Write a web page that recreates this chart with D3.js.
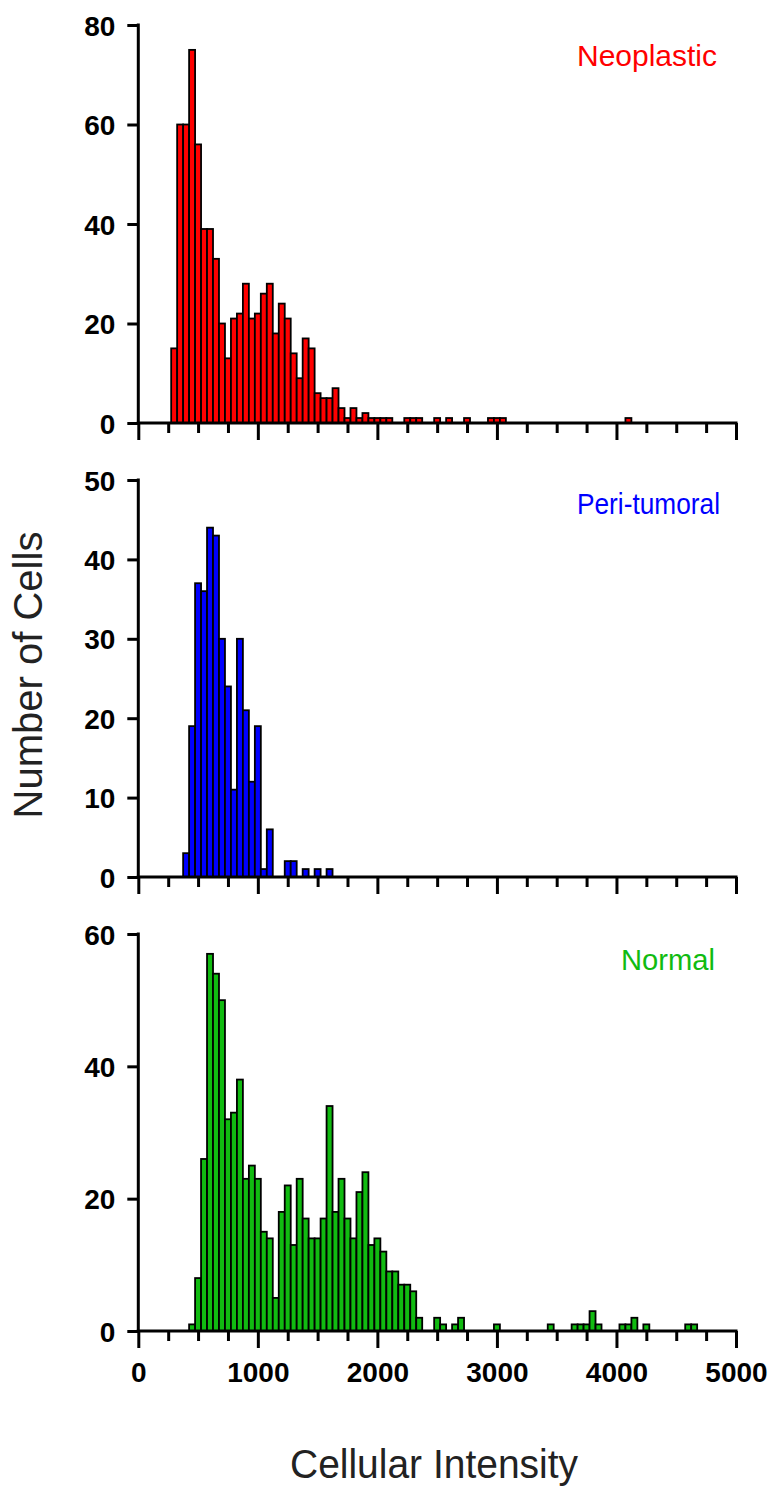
<!DOCTYPE html>
<html>
<head>
<meta charset="utf-8">
<script src="https://cdn.jsdelivr.net/npm/d3@7"></script>
<style>
  body { margin: 0; background: #fff; }
  .tick-label { font-family: "Liberation Sans", Arial, sans-serif; font-weight: bold; font-size: 28px; fill: #000; }
  .axis-title { font-family: "Liberation Sans", Arial, sans-serif; font-size: 40px; fill: #222; }
  .panel-label { font-family: "Liberation Sans", Arial, sans-serif; font-size: 29.5px; }
</style>
</head>
<body>
<div id="chart"></div>
<script>
// bin width of the histograms, bins are centred on these values
var binWidth = 50;

var neoplasticBins   = [300,350,400,450,500,550,600,650,700,750,800,850,900,950,1000,1050,1100,1150,1200,1250,1300,1350,1400,1450,1500,1550,1600,1650,1700,1750,1800,1850,1900,1950,2000,2050,2100,2250,2300,2350,2500,2600,2750,2950,3000,3050,4100];
var neoplasticCounts = [15,60,60,75,56,39,39,33,20,13,21,22,28,21,22,26,28,18,24,21,14,9,17,15,6,5,5,7,3,1,3,1,2,1,1,1,1,1,1,1,1,1,1,1,1,1,1];

var periBins   = [400,450,500,550,600,650,700,750,800,850,900,950,1000,1050,1100,1250,1300,1400,1500,1600];
var periCounts = [3,19,37,36,44,43,30,24,11,30,21,12,19,1,6,2,2,1,1,1];

var normalBins   = [450,500,550,600,650,700,750,800,850,900,950,1000,1050,1100,1150,1200,1250,1300,1350,1400,1450,1500,1550,1600,1650,1700,1750,1800,1850,1900,1950,2000,2050,2100,2150,2200,2250,2300,2350,2500,2550,2650,2700,3000,3450,3650,3700,3750,3800,3850,4050,4100,4150,4250,4600,4650];
var normalCounts = [1,8,26,57,54,50,32,33,38,23,25,23,15,14,5,18,22,13,23,17,14,14,17,34,18,23,17,14,21,24,13,14,12,9,9,7,7,6,2,2,1,1,2,1,1,1,1,1,3,1,1,1,2,1,1,1];

var xTicks = [0,1000,2000,3000,4000,5000];
var xMinorStep = 250;

var width = 773, height = 1489;

var svg = d3.select("#chart").append("svg")
    .attr("width", width)
    .attr("height", height);

var x = d3.scaleLinear().domain([0, 5000]).range([138.3, 736]);

// one entry per stacked panel
var panels = [
  { name: "Neoplastic",   bins: neoplasticBins, counts: neoplasticCounts, color: "#ff0000", yMax: 80, yStep: 20, top: 25,  bottom: 423,  labelX: 717, labelY: 66,  labelW: 140 },
  { name: "Peri-tumoral", bins: periBins,       counts: periCounts,       color: "#0000ff", yMax: 50, yStep: 10, top: 480, bottom: 877,  labelX: 720, labelY: 514, labelW: 143 },
  { name: "Normal",       bins: normalBins,     counts: normalCounts,     color: "#11bb11", yMax: 60, yStep: 20, top: 934, bottom: 1331, labelX: 715, labelY: 970, labelW: 94 }
];

panels.forEach(function(p, i) {
	var y = d3.scaleLinear().domain([0, p.yMax]).range([p.bottom, p.top]);
	var g = svg.append("g");

	// bars
	g.selectAll("rect")
		.data(p.bins.map(function(b, k) { return { c: b, n: p.counts[k] }; }))
		.enter().append("rect")
		.attr("x", function(d) { return x(d.c - binWidth / 2); })
		.attr("width", function(d) { return x(d.c + binWidth / 2) - x(d.c - binWidth / 2); })
		.attr("y", function(d) { return y(d.n); })
		.attr("height", function(d) { return y(0) - y(d.n); })
		.attr("fill", p.color)
		.attr("stroke", "#000")
		.attr("stroke-width", 1.8);

	// y axis
	var yAxis = d3.axisLeft(y)
		.tickValues(d3.range(0, p.yMax + 1, p.yStep))
		.tickSize(11)
		.tickPadding(12)
		.tickFormat(d3.format("d"));
	var ya = g.append("g").attr("transform", "translate(" + x(0) + ",0)").call(yAxis);
	ya.select(".domain").remove();
	ya.selectAll(".tick line").attr("stroke", "#000").attr("stroke-width", 3);
	ya.selectAll(".tick text").attr("class", "tick-label").attr("dy", "0.36em");
	g.append("line")
		.attr("x1", x(0)).attr("x2", x(0))
		.attr("y1", y(p.yMax) - 1.5).attr("y2", y(0))
		.attr("stroke", "#000").attr("stroke-width", 3);

	// x axis: minor ticks then major ticks
	var xa = g.append("g").attr("transform", "translate(0," + y(0) + ")");
	var minor = d3.axisBottom(x)
		.tickValues(d3.range(0, 5001, xMinorStep).filter(function(v) { return v % 1000 !== 0; }))
		.tickSize(10).tickFormat("");
	var major = d3.axisBottom(x)
		.tickValues(xTicks)
		.tickSize(17)
		.tickPadding(14)
		.tickFormat(i === panels.length - 1 ? d3.format("d") : "");
	var mn = xa.append("g").call(minor);
	var mj = xa.append("g").call(major);
	mn.select(".domain").remove();
	mj.select(".domain").remove();
	xa.selectAll(".tick line").attr("stroke", "#000").attr("stroke-width", 3);
	mj.selectAll(".tick text").attr("class", "tick-label");
	xa.append("line")
		.attr("x1", x(0) - 1.5).attr("x2", x(5000) + 1.5)
		.attr("stroke", "#000").attr("stroke-width", 3);

	// panel label
	g.append("text")
		.attr("class", "panel-label")
		.attr("x", p.labelX).attr("y", p.labelY)
		.attr("text-anchor", "end")
		.attr("textLength", p.labelW)
		.attr("lengthAdjust", "spacingAndGlyphs")
		.attr("fill", p.color)
		.text(p.name);
});

// axis titles
svg.append("text")
	.attr("class", "axis-title")
	.attr("text-anchor", "middle")
	.attr("transform", "translate(42,675) rotate(-90)")
	.text("Number of Cells");

svg.append("text")
	.attr("class", "axis-title")
	.attr("text-anchor", "middle")
	.attr("x", 434).attr("y", 1478)
	.attr("textLength", 288)
	.attr("lengthAdjust", "spacingAndGlyphs")
	.text("Cellular Intensity");
</script>
</body>
</html>
